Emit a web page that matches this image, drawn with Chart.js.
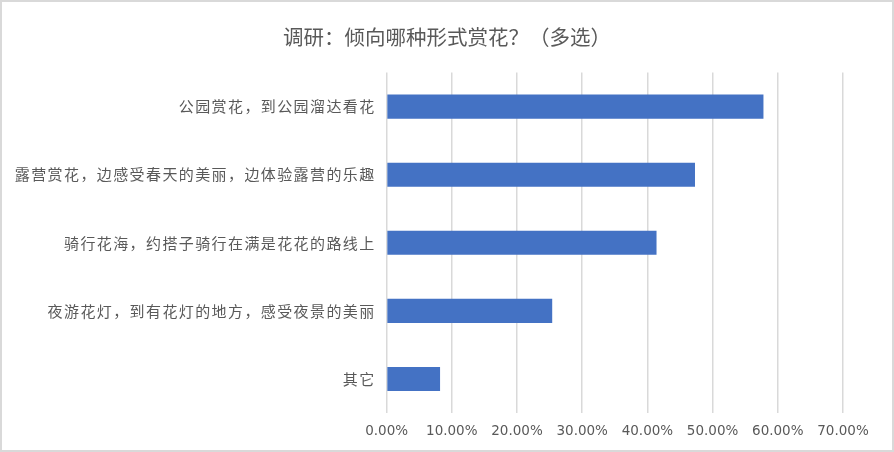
<!DOCTYPE html>
<html>
<head>
<meta charset="utf-8">
<script src="https://cdn.jsdelivr.net/npm/chart.js@4"></script>
<style>
  html, body { margin: 0; padding: 0; background: #fff; }
  #wrap { width: 894px; height: 452px; box-sizing: border-box; border: 2px solid #d9d9d9; background: #fff; }
  canvas { display: block; }
</style>
</head>
<body>
<div id="wrap"><canvas id="c" width="890" height="448"></canvas></div>
<script>
const titleText = '调研：倾向哪种形式赏花？（多选）';
const categories = [
  '公园赏花，到公园溜达看花',
  '露营赏花，边感受春天的美丽，边体验露营的乐趣',
  '骑行花海，约搭子骑行在满是花花的路线上',
  '夜游花灯，到有花灯的地方，感受夜景的美丽',
  '其它'
];
const values = [57.8, 47.3, 41.4, 25.4, 8.2];
const tickMax = 70;
const tickStep = 10;

const font = '"Noto Sans CJK SC", "Noto Sans", sans-serif';
Chart.defaults.font.family = font;
Chart.defaults.color = '#595959';

const titleFont = 'normal 20.5px ' + font;
const titlePlugin = {
  id: 'manualTitle',
  afterDraw(chart) {
    const ctx = chart.ctx;
    const t = chart.titleBlock;
    ctx.save();
    ctx.font = titleFont;
    ctx.fillStyle = '#595959';
    ctx.textAlign = 'left';
    ctx.textBaseline = 'middle';
    const w = ctx.measureText(titleText).width;
    const cx = chart.width / 2;
    const cy = (t.top + t.bottom) / 2;
    ctx.fillText(titleText, cx - w / 2, cy);
    ctx.restore();
  }
};

const chart = new Chart(document.getElementById('c'), {
  type: 'bar',
  data: {
    labels: categories,
    datasets: [{
      data: values,
      backgroundColor: '#4472c4',
      borderWidth: 0,
      categoryPercentage: 1,
      barPercentage: 0.353
    }]
  },
  plugins: [titlePlugin],
  options: {
    indexAxis: 'y',
    responsive: false,
    animation: false,
    layout: { padding: { left: 0, right: 49, top: 0, bottom: 0 } },
    plugins: {
      legend: { display: false },
      tooltip: { enabled: false },
      title: {
        display: true,
        text: titleText,
        color: 'rgba(0,0,0,0)',
        font: { size: 20.5, weight: 'normal', family: font },
        padding: { top: 18, bottom: 28 }
      }
    },
    scales: {
      x: {
        min: 0,
        max: tickMax,
        ticks: {
          stepSize: tickStep,
          color: '#595959',
          font: { size: 13.5, family: '"DejaVu Sans", sans-serif' },
          padding: 10,
          callback: v => v.toFixed(2) + '%'
        },
        grid: { color: '#d9d9d9', lineWidth: 1.5, drawTicks: false },
        border: { display: false },
        afterFit: s => { s.height = 37; }
      },
      y: {
        ticks: { color: '#595959', font: { size: 15 }, padding: 11 },
        grid: { display: false, drawTicks: false },
        border: { display: false },
        afterFit: s => { s.width = 384.6; }
      }
    }
  }
});

const yScale = chart.scales.y;
const origDrawLabels = yScale.drawLabels.bind(yScale);
yScale.drawLabels = function (area) {
  const ctx = this.ctx;
  ctx.save();
  ctx.letterSpacing = '1.4px';
  origDrawLabels(area);
  ctx.restore();
};
chart.draw();
</script>
</body>
</html>
